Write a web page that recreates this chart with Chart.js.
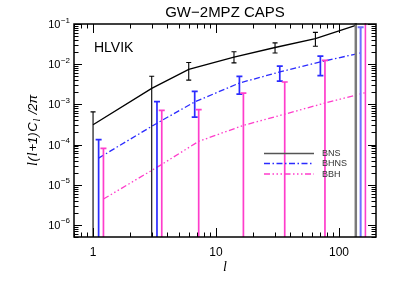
<!DOCTYPE html>
<html>
<head>
<meta charset="utf-8">
<script src="https://cdn.jsdelivr.net/npm/chart.js@4.4.1/dist/chart.umd.min.js"></script>
<style>
html,body{margin:0;padding:0;background:#fff}
#wrap{width:399px;height:285px}
</style>
</head>
<body>
<div id="wrap"><canvas id="chart" width="399" height="285"></canvas></div>
<script>
// multipole bin positions (each series nudged right so the bars don't overlap)
const ellBNS = [1.0, 3.0, 6.0, 14.0, 30.2, 64.3, 137]
const ellBHNS = [1.11, 3.31, 6.71, 15.5, 33.0, 70.6, 150]
const ellBBH = [1.215, 3.62, 7.23, 16.7, 36.2, 76.9, 164]

// l(l+1)C_l/2pi values and error bar ends (1e-9 / 1 = runs off the axes)
const clBNS = [3.1e-4, 2.5e-3, 7.4e-3, 1.5e-2, 2.6e-2, 4.3e-2, 9.2e-2]
const hiBNS = [6.5e-4, 5.0e-3, 1.1e-2, 2.04e-2, 3.4e-2, 6.2e-2, 1]
const loBNS = [1e-9, 1e-9, 4.0e-3, 1.08e-2, 1.9e-2, 2.8e-2, 1e-9]

const clBHNS = [4.6e-5, 3.4e-4, 1.15e-3, 3.4e-3, 6.4e-3, 1.14e-2, 1.9e-2]
const hiBHNS = [1.33e-4, 1.17e-3, 2.1e-3, 5.0e-3, 8.9e-3, 1.58e-2, 8.3e-2]
const loBHNS = [1e-9, 1e-9, 4.8e-4, 1.8e-3, 3.8e-3, 5.2e-3, 1e-9]

const clBBH = [4.4e-6, 3.2e-5, 1.2e-4, 3.0e-4, 5.7e-4, 1.08e-3, 1.96e-3]
const hiBBH = [8.0e-5, 7.1e-4, 7.4e-4, 1.9e-3, 3.6e-3, 1.24e-2, 1]
const loBBH = [1e-9, 1e-9, 1e-9, 1e-9, 1e-9, 1e-9, 1e-9]

const seriesNames = ['BNS', 'BHNS', 'BBH']
const xMajor = [1, 10, 100]
const yDecades = [-6, -5, -4, -3, -2, -1]

const SANS = '"Liberation Sans", Arial, sans-serif'
const SERIF = '"Liberation Serif", "Times New Roman", serif'
const BLUE = '#2b2bff'
const PINK = '#ff3dcb'

function pts(xs, ys){
  return xs.map((x,i)=>({x, y: ys[i]}))
}

const dashes = [[], [6,2.5,1.5,2.5], [6,2.5,1.5,2.5,1.5,2.5,1.5,2.5]]

// error bars, drawn through the chart's own scales
const errorBars = {
  id: 'errorBars',
  afterDatasetsDraw(chart){
    const {ctx, chartArea: a, scales:{x, y}} = chart
    ctx.save()
    ctx.beginPath(); ctx.rect(a.left, a.top - 1, a.right - a.left, a.bottom - a.top + 1); ctx.clip()
    chart.data.datasets.forEach(ds=>{
      ds.data.forEach((p,i)=>{
        const last = i === ds.data.length - 1
        const px = x.getPixelForValue(p.x)
        let yh = y.getPixelForValue(ds.errHi[i])
        let yl = y.getPixelForValue(ds.errLo[i])
        ctx.strokeStyle = last ? ds.lastColor : ds.errColor
        ctx.lineWidth = last ? ds.lastWidth : ds.errWidth
        ctx.setLineDash([])
        ctx.beginPath()
        ctx.moveTo(px, Math.max(yh, a.top - 2)); ctx.lineTo(px, Math.min(yl, a.bottom + 2))
        const c = ds.capHalf
        if (yh > a.top) { ctx.moveTo(px - c, yh); ctx.lineTo(px + c, yh) }
        if (yl < a.bottom) { ctx.moveTo(px - c, yl); ctx.lineTo(px + c, yl) }
        ctx.stroke()
      })
    })
    ctx.restore()
  }
}

// frame, inward ticks, tick labels, axis titles, legend and the HLVIK tag
const decor = {
  id: 'decor',
  afterDraw(chart){
    const {ctx, chartArea: a, scales:{x, y}} = chart
    ctx.save()
    ctx.strokeStyle = '#000'
    ctx.lineWidth = 1
    ctx.setLineDash([])
    ctx.beginPath()
    // x ticks (bottom + top)
    const xt = []
    ;[0.1, 1, 10, 100].forEach(d=>{ for (let k=1;k<10;k++) xt.push({v:k*d, major:k===1}) })
    xt.forEach(t=>{
      if (t.v <= x.min || t.v >= x.max) return
      const px = Math.round(x.getPixelForValue(t.v)) + 0.5
      const len = t.major ? 9 : 4.5
      ctx.moveTo(px, a.bottom); ctx.lineTo(px, a.bottom - len)
      ctx.moveTo(px, a.top); ctx.lineTo(px, a.top + len)
    })
    // y ticks (left + right)
    for (let n=-7;n<=-1;n++){
      for (let k=1;k<10;k++){
        const v = k*Math.pow(10,n)
        if (v < y.min || v > y.max*1.0001) continue
        const py = Math.round(y.getPixelForValue(v)) + 0.5
        const len = k===1 ? 8 : 4.5
        ctx.moveTo(a.left, py); ctx.lineTo(a.left + len, py)
        ctx.moveTo(a.right, py); ctx.lineTo(a.right - len, py)
      }
    }
    ctx.stroke()
    ctx.lineWidth = 1.5
    ctx.strokeRect(a.left, a.top, a.right - a.left, a.bottom - a.top)

    ctx.fillStyle = '#000'
    // x tick labels
    ctx.font = '12px ' + SANS
    ctx.textAlign = 'center'
    ctx.textBaseline = 'alphabetic'
    xMajor.forEach(v=>{
      ctx.fillText(String(v), x.getPixelForValue(v), a.bottom + 19)
    })
    // y tick labels 10^n
    yDecades.forEach(n=>{
      const py = y.getPixelForValue(Math.pow(10,n))
      ctx.font = '11px ' + SANS
      const w1 = ctx.measureText('10').width
      ctx.font = '8px ' + SANS
      const sup = '\u2212' + Math.abs(n)
      const w2 = ctx.measureText(sup).width
      const right = a.left - 4
      ctx.textAlign = 'left'
      ctx.font = '11px ' + SANS
      ctx.fillText('10', right - w1 - w2 - 0.5, py + 4)
      ctx.font = '8px ' + SANS
      ctx.fillText(sup, right - w2, py - 1.5)
    })
    // x title
    ctx.font = 'italic 14px ' + SERIF
    ctx.textAlign = 'center'
    ctx.fillText('l', (a.left + a.right)/2, 271)
    // y title, rotated
    const segs = [
      ['l', 'italic 14px ' + SERIF, 0],
      ['(', 'italic 13px ' + SANS, 0],
      ['l', 'italic 14px ' + SERIF, 0],
      ['+1)', 'italic 13px ' + SANS, 0],
      ['C', 'italic 13px ' + SANS, 0],
      ['l', 'italic 10px ' + SERIF, 3],
      [' /2\u03c0', 'italic 13px ' + SANS, 0]
    ]
    ctx.textAlign = 'left'
    let total = 0
    segs.forEach(s=>{ ctx.font = s[1]; total += ctx.measureText(s[0]).width + 0.8 })
    ctx.translate(37, 130)
    ctx.rotate(-Math.PI/2)
    let cx = -total/2
    segs.forEach(s=>{
      ctx.font = s[1]
      ctx.fillText(s[0], cx, s[2])
      cx += ctx.measureText(s[0]).width + 0.8
    })
    ctx.setTransform(1,0,0,1,0,0)

    // HLVIK
    ctx.font = '14px ' + SANS
    ctx.fillText('HLVIK', 94, 52)

    // legend
    const ly = [153.5, 163.5, 174]
    chart.data.datasets.forEach((ds,i)=>{
      ctx.strokeStyle = i===0 ? '#555' : ds.borderColor
      ctx.lineWidth = 1.5
      ctx.setLineDash(dashes[i])
      ctx.beginPath(); ctx.moveTo(264, ly[i]); ctx.lineTo(314, ly[i]); ctx.stroke()
      ctx.setLineDash([])
      ctx.fillStyle = '#333'
      ctx.font = '9px ' + SANS
      ctx.textBaseline = 'middle'
      ctx.fillText(seriesNames[i], 322, ly[i] + 0.5)
    })
    ctx.restore()
  }
}

const ctx = document.getElementById('chart').getContext('2d')
const chart = new Chart(ctx, {
  type: 'line',
  data: {
    datasets: [
      {label:'BNS', data: pts(ellBNS, clBNS), borderColor:'#000', borderWidth:1.3,
        errHi: hiBNS, errLo: loBNS, errColor:'#000', errWidth:1.1, lastColor:'#7a7a7a', lastWidth:2.5, capHalf:2.5},
      {label:'BHNS', data: pts(ellBHNS, clBHNS), borderColor:BLUE, borderWidth:1.3, borderDash:dashes[1],
        errHi: hiBHNS, errLo: loBHNS, errColor:BLUE, errWidth:1.7, lastColor:'#6f6fff', lastWidth:2, capHalf:3},
      {label:'BBH', data: pts(ellBBH, clBBH), borderColor:PINK, borderWidth:1.3, borderDash:dashes[2],
        errHi: hiBBH, errLo: loBBH, errColor:PINK, errWidth:1.7, lastColor:PINK, lastWidth:1.6, capHalf:3}
    ]
  },
  options: {
    responsive: false,
    animation: false,
    events: [],
    layout: {padding: {top:0, right:23, left:0, bottom:0}},
    elements: {point: {radius:0}, line: {tension:0}},
    plugins: {
      legend: {display:false},
      tooltip: {enabled:false},
      title: {
        display: true, text: 'GW\u22122MPZ CAPS', fullSize: false, color:'#000',
        font: {size:15, family: SANS, weight:'normal'},
        padding: {top:4, bottom:2}
      }
    },
    scales: {
      x: {type:'logarithmic', min:0.7, max:200,
        grid:{display:false}, border:{display:false}, ticks:{display:false},
        afterFit(s){ s.height = 48 }},
      y: {type:'logarithmic', min:5e-7, max:0.1,
        grid:{display:false}, border:{display:false}, ticks:{display:false},
        afterFit(s){ s.width = 74 }}
    }
  },
  plugins: [errorBars, decor]
})
</script>
</body>
</html>
